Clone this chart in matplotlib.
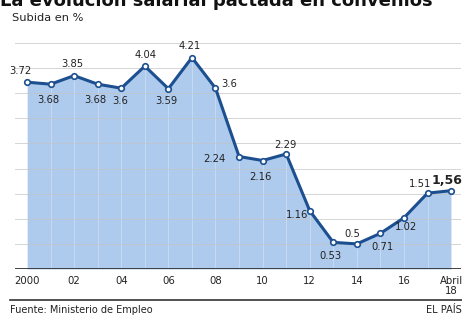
import matplotlib.pyplot as plt

years = list(range(2000, 2019))
subida = [3.72, 3.68, 3.85, 3.68, 3.6, 4.04, 3.59, 4.21, 3.6, 2.24,
          2.16, 2.29, 1.16, 0.53, 0.5, 0.71, 1.02, 1.51, 1.56]
labels = ['3.72', '3.68', '3.85', '3.68', '3.6', '4.04', '3.59', '4.21', '3.6', '2.24',
          '2.16', '2.29', '1.16', '0.53', '0.5', '0.71', '1.02', '1.51', '1,56']
tick_years = [2000, 2002, 2004, 2006, 2008, 2010, 2012, 2014, 2016, 2018]
tick_labels = ['2000', '02', '04', '06', '08', '10', '12', '14', '16', 'Abril\n18']

# label offsets in pixels (dx, dy), dy positive = down
offsets = [(-7, -11), (-2, 16), (-2, -12), (-2, 16), (-1, 13), (1, -11), (-2, 12),
           (-2, -12), (14, -4), (-25, 2), (-2, 16), (-1, -9), (-13, 4), (-3, 14),
           (-5, -10), (2, 14), (2, 9), (-7, -9), (-4, -10)]

line_c = '#1c4f8f'
fill_c = '#aecbee'

fig = plt.figure(figsize=(4.62, 3.15), dpi=100)
ax = fig.add_axes([15 / 462, 46 / 315, 446 / 462, 226 / 315])

ax.fill_between(years, subida, 0, color=fill_c, lw=0, zorder=1)
ax.vlines(years, 0, subida, color='white', alpha=0.35, lw=0.6, zorder=2)
for g in [0.5, 1, 1.5, 2, 2.5, 3, 3.5, 4, 4.5]:
    ax.axhline(g, color='#c4c4c4', lw=0.7, alpha=0.7, zorder=2)
ax.plot(years, subida, color=line_c, lw=2.2, marker='o', ms=4,
        mfc='white', mec=line_c, mew=1.2, zorder=4)
ax.axhline(0, color='#333333', lw=1.3, zorder=5)

for i, (x, y) in enumerate(zip(years, subida)):
    dx, dy = offsets[i]
    bold = i == len(years) - 1
    ax.annotate(labels[i], (x, y), xytext=(dx, -dy), textcoords='offset pixels',
                ha='center', va='center', fontsize=9 if bold else 7.2,
                fontweight='bold' if bold else 'normal', color='#222222', zorder=6)

ax.set_xlim(1999.49, 2018.42)
ax.set_ylim(0, 4.5)
ax.set_xticks(tick_years)
ax.set_xticklabels(tick_labels, fontsize=7.3, color='#222222', linespacing=1.0, va='top')
ax.tick_params(axis='x', length=0, pad=5)
ax.set_yticks([])
for s in ax.spines.values():
    s.set_visible(False)

fig.text(0.0, 1 - 6 / 315, 'La evolución salarial pactada en convenios', fontsize=13,
         fontweight='bold', va='baseline', ha='left', color='#111111')
fig.text(12 / 462, 1 - 18 / 315, 'Subida en %', fontsize=8.2, va='center', ha='left',
         color='#222222')
fig.add_artist(plt.Line2D([10 / 462, 1], [1 - 300 / 315] * 2, color='#333333', lw=1.2))
fig.text(10 / 462, 1 - 310 / 315, 'Fuente: Ministerio de Empleo', fontsize=7,
         va='center', ha='left', color='#222222')
fig.text(1.0, 1 - 310 / 315, 'EL PAÍS', fontsize=7, va='center', ha='right',
         color='#222222')

fig.savefig('out.png', dpi=100)
